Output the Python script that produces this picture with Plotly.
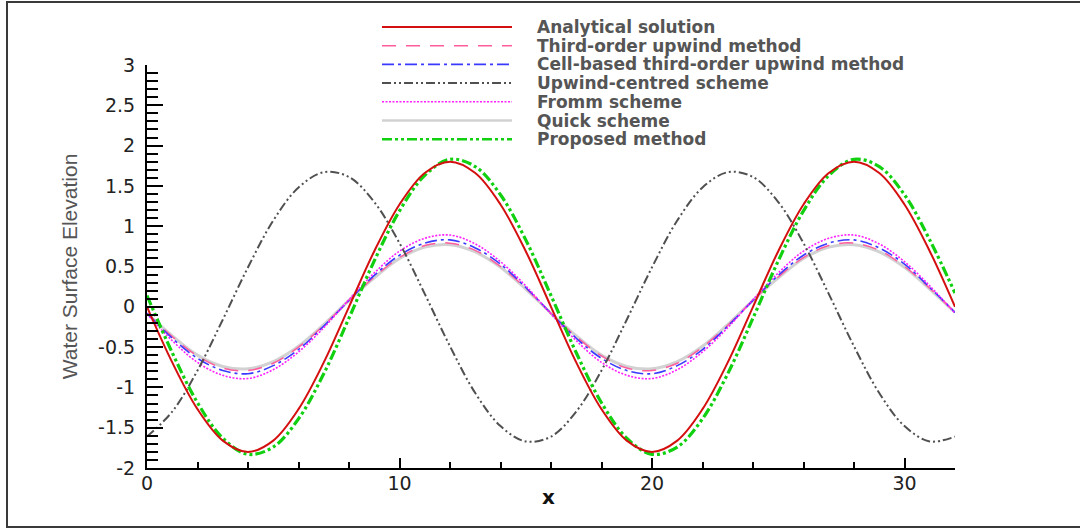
import plotly.graph_objects as go

# ---------------- data ----------------
x_values = [0, 1, 2, 3, 4, 5, 6, 7, 8, 9, 10, 11, 12, 13, 14, 15, 16,
            17, 18, 19, 20, 21, 22, 23, 24, 25, 26, 27, 28, 29, 30, 31, 32]

analytical = [0.00, -0.69, -1.27, -1.66, -1.80, -1.66, -1.27, -0.69, 0.00,
              0.69, 1.27, 1.66, 1.80, 1.66, 1.27, 0.69, 0.00,
              -0.69, -1.27, -1.66, -1.80, -1.66, -1.27, -0.69, 0.00,
              0.69, 1.27, 1.66, 1.80, 1.66, 1.27, 0.69, 0.00]

third_order = [-0.08, -0.37, -0.61, -0.76, -0.79, -0.70, -0.50, -0.23, 0.08,
               0.37, 0.61, 0.76, 0.79, 0.70, 0.50, 0.23, -0.08,
               -0.37, -0.61, -0.76, -0.79, -0.70, -0.50, -0.23, 0.08,
               0.37, 0.61, 0.76, 0.79, 0.70, 0.50, 0.23, -0.07]

cell_based = [-0.08, -0.39, -0.64, -0.79, -0.83, -0.73, -0.53, -0.24, 0.08,
              0.39, 0.64, 0.79, 0.83, 0.73, 0.53, 0.24, -0.08,
              -0.39, -0.64, -0.79, -0.83, -0.73, -0.53, -0.24, 0.08,
              0.39, 0.64, 0.79, 0.83, 0.73, 0.53, 0.24, -0.07]

upwind_centred = [-1.61, -1.30, -0.79, -0.16, 0.49, 1.07, 1.48, 1.67, 1.61,
                  1.30, 0.79, 0.16, -0.49, -1.07, -1.48, -1.67, -1.61,
                  -1.30, -0.79, -0.16, 0.49, 1.07, 1.48, 1.67, 1.61,
                  1.30, 0.79, 0.16, -0.49, -1.07, -1.48, -1.67, -1.61]

fromm = [-0.09, -0.42, -0.69, -0.85, -0.89, -0.78, -0.56, -0.26, 0.09,
         0.42, 0.69, 0.85, 0.89, 0.78, 0.56, 0.26, -0.09,
         -0.42, -0.69, -0.85, -0.89, -0.78, -0.56, -0.26, 0.09,
         0.42, 0.69, 0.85, 0.89, 0.78, 0.56, 0.26, -0.08]

quick = [-0.08, -0.36, -0.60, -0.74, -0.77, -0.68, -0.49, -0.22, 0.08,
         0.36, 0.60, 0.74, 0.77, 0.68, 0.49, 0.22, -0.08,
         -0.36, -0.60, -0.74, -0.77, -0.68, -0.49, -0.22, 0.08,
         0.36, 0.60, 0.74, 0.77, 0.68, 0.49, 0.22, -0.07]

proposed = [0.14, -0.57, -1.19, -1.63, -1.83, -1.74, -1.39, -0.83, -0.14,
            0.57, 1.19, 1.63, 1.83, 1.74, 1.39, 0.83, 0.14,
            -0.57, -1.19, -1.63, -1.83, -1.74, -1.39, -0.83, -0.14,
            0.57, 1.19, 1.63, 1.83, 1.74, 1.39, 0.83, 0.17]

series_names = ["Analytical solution", "Third-order upwind method",
                "Cell-based third-order upwind method", "Upwind-centred scheme",
                "Fromm scheme", "Quick scheme", "Proposed method"]

x_tick_vals = [0, 10, 20, 30]
y_tick_vals = [-2, -1.5, -1, -0.5, 0, 0.5, 1, 1.5, 2, 2.5, 3]
y_tick_text = ["-2", "-1.5", "-1", "-0.5", "0", "0.5", "1", "1.5", "2", "2.5", "3"]

# ---------------- styles ----------------
styles = {
    "Analytical solution": dict(color="#d40f0f", width=2, dash="solid"),
    "Third-order upwind method": dict(color="#ff5c9d", width=1.5, dash="14px,10px"),
    "Cell-based third-order upwind method": dict(color="#3a3aff", width=1.6, dash="12px,4px,3px,4px"),
    "Upwind-centred scheme": dict(color="#505050", width=2, dash="9px,3px,2px,3px,2px,3px"),
    "Fromm scheme": dict(color="#ff20ff", width=1.6, dash="2px,1.5px"),
    "Quick scheme": dict(color="#d2d2d2", width=3, dash="solid"),
    "Proposed method": dict(color="#10d010", width=3.2, dash="10px,3px,3px,3px,3px,3px"),
}

data_map = {
    "Analytical solution": analytical,
    "Third-order upwind method": third_order,
    "Cell-based third-order upwind method": cell_based,
    "Upwind-centred scheme": upwind_centred,
    "Fromm scheme": fromm,
    "Quick scheme": quick,
    "Proposed method": proposed,
}

draw_order = ["Quick scheme", "Third-order upwind method", "Cell-based third-order upwind method",
              "Fromm scheme", "Upwind-centred scheme", "Proposed method", "Analytical solution"]

fig = go.Figure()
for name in draw_order:
    fig.add_trace(go.Scatter(
        x=x_values, y=data_map[name], mode="lines", name=name,
        line=dict(shape="spline", smoothing=1.0, **styles[name]),
        showlegend=False, hoverinfo="skip"))

# ---------------- layout ----------------
W, H = 1080, 529
ML, MR, MT, MB = 147, 125, 65, 61
PW, PH = W - ML - MR, H - MT - MB


def px_x(p):
    return (p - ML) / PW


def px_y(p):
    return (H - MB - p) / PH


shapes = []
annotations = []

# custom legend (long line samples, text to the right)
leg_x0, leg_x1, leg_text_x = 382, 512, 535
leg_top, leg_step = 27, 18.7
for i, name in enumerate(series_names):
    yy = px_y(leg_top + i * leg_step)
    st = styles[name]
    shapes.append(dict(type="line", xref="paper", yref="paper",
                       x0=px_x(leg_x0), x1=px_x(leg_x1), y0=yy, y1=yy,
                       line=dict(color=st["color"], width=min(st["width"], 2.6), dash=st["dash"])))
    annotations.append(dict(xref="paper", yref="paper", x=px_x(leg_text_x), y=yy,
                            xanchor="left", yanchor="middle", showarrow=False,
                            text=name,
                            font=dict(family="DejaVu Sans", size=17, color="#555555",
                                      weight="bold")))

# x axis title as an annotation positioned under the tick labels
annotations.append(dict(xref="paper", yref="paper", x=px_x(548), y=px_y(497),
                        xanchor="center", yanchor="middle", showarrow=False,
                        text="<b>x</b>",
                        font=dict(family="DejaVu Sans", size=20, color="#111111")))

# outer frame
shapes.append(dict(type="rect", xref="paper", yref="paper",
                   x0=px_x(7), x1=px_x(1100), y0=px_y(527), y1=px_y(2),
                   line=dict(color="#3a3a3a", width=2), fillcolor="rgba(0,0,0,0)", layer="below"))

fig.update_layout(
    width=W, height=H,
    margin=dict(l=ML, r=MR, t=MT, b=MB, pad=0),
    paper_bgcolor="white", plot_bgcolor="white",
    shapes=shapes, annotations=annotations,
    showlegend=False,
    xaxis=dict(range=[0, 32], showgrid=False, zeroline=False, automargin=False,
               showline=True, linecolor="black", linewidth=2,
               ticks="inside", tickvals=x_tick_vals, ticklen=10, tickwidth=2, tickcolor="black",
               minor=dict(dtick=2, ticks="inside", ticklen=6, tickwidth=1.5, tickcolor="black"),
               ticklabelstandoff=-3,
               tickfont=dict(family="DejaVu Sans", size=19, color="#222222")),
    yaxis=dict(range=[-2, 3], showgrid=False, zeroline=False, automargin=False,
               showline=True, linecolor="black", linewidth=2,
               ticks="inside", tickvals=y_tick_vals, ticktext=y_tick_text,
               ticklen=16, tickwidth=2, tickcolor="black",
               minor=dict(dtick=0.1, ticks="inside", ticklen=11, tickwidth=1.5, tickcolor="black"),
               ticklabelstandoff=6,
               tickfont=dict(family="DejaVu Sans", size=19, color="#222222"),
               title=dict(text="Water Surface Elevation",
                          font=dict(family="Liberation Sans", size=21, color="#555555"),
                          standoff=15)),
)

# remove the default page margin so the figure sits at the window's top-left corner
fig.write_html("out.html",
               config={"displayModeBar": False},
               post_script="document.body.style.margin='0';document.body.style.overflow='hidden';")
